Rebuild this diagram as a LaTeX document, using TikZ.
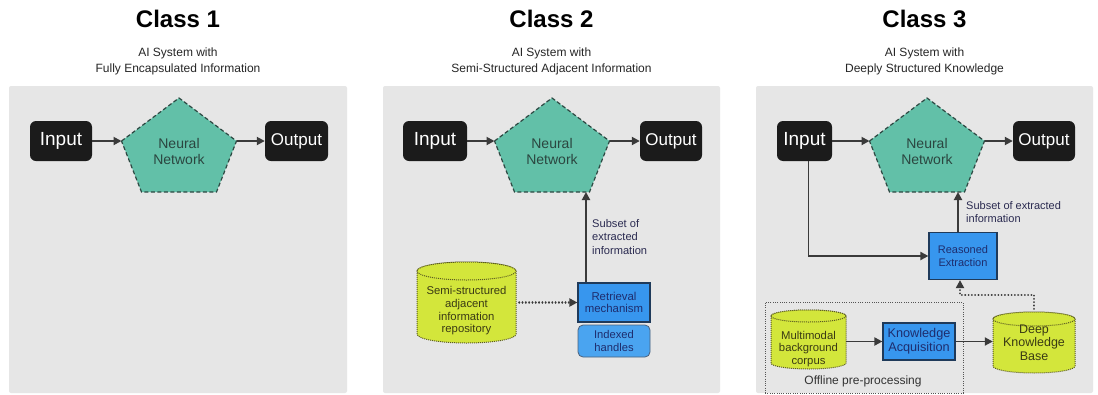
\documentclass[tikz,border=0pt]{standalone}
\usepackage{fontspec}
\setmainfont{Liberation Sans}
\usetikzlibrary{arrows.meta,calc}
\definecolor{panelc}{HTML}{E6E6E6}
\definecolor{blkc}{HTML}{1B1B1B}
\definecolor{nnfill}{HTML}{62C0A8}
\definecolor{pentc}{HTML}{2D4842}
\definecolor{nntextc}{HTML}{2B4640}
\definecolor{arrc}{HTML}{3A3A3A}
\definecolor{bluec}{HTML}{3796EE}
\definecolor{blued}{HTML}{1F3A5A}
\definecolor{navyc}{HTML}{1E2D6E}
\definecolor{blue2c}{HTML}{4AA4F0}
\definecolor{limec}{HTML}{D3E63B}
\definecolor{cyldc}{HTML}{5A5A22}
\definecolor{cyltextc}{HTML}{3A3A14}
\definecolor{lblc}{HTML}{2A2A50}
\definecolor{offc}{HTML}{555555}
\newcommand\fs[2]{\fontsize{#1}{#2}\selectfont}
\tikzset{
  panelbox/.style={fill=panelc, rounded corners=2pt},
  titletext/.style={inner sep=0pt, text=black, font=\bfseries\fs{24}{28}},
  subtext/.style={inner sep=0pt, text=black!85, align=center, font=\fs{12}{16}},
  blk/.style={fill=blkc, rounded corners=6pt, text=white, minimum height=40pt, inner sep=0pt},
  arr/.style={draw=arrc, line width=1.9pt, -{Triangle[length=8pt,width=8pt]}},
  dotarr/.style={draw=arrc, line width=2.1pt, line cap=round, dash pattern=on 0.01pt off 3.3pt, -{Triangle[length=8pt,width=8pt]}},
  pent/.style={fill=nnfill, draw=pentc, line width=1.2pt, dash pattern=on 4pt off 2.5pt},
  nntext/.style={inner sep=0pt, align=center, text=nntextc, font=\fs{14}{16.8}},
  bluebox/.style={fill=bluec, draw=blued, line width=1.2pt, text=navyc, inner sep=0pt, align=center},
  idxbox/.style={fill=blue2c, draw=blued!80, line width=0.8pt, rounded corners=5pt, text=navyc, inner sep=0pt, align=center},
  lbl/.style={text=lblc, align=left, inner sep=0pt, anchor=west},
  cyl/.style={fill=limec, draw=cyldc, line width=1pt, dash pattern=on 1pt off 1pt},
  cylnode/.style={inner sep=0pt, draw=none},
  cyltext/.style={inner sep=0pt, align=center, text=cyltextc},
  offbox/.style={draw=offc, line width=0.9pt, dash pattern=on 1pt off 1.3pt, inner sep=0pt},
}
% pentagon: name, cx
\newcommand\penta[2]{%
  \draw[pent] ({#2-57.5},141) coordinate (#1-l) -- (#2,98) -- ({#2+57.5},141) coordinate (#1-r)
     -- ({#2+37.5},192) -- ({#2-37.5},192) -- cycle;
  \node[nntext] (#1) at (#2,151.5) {Neural\\Network};
}
% cylinder: name, cx, cy, rx, hh, ry, text offset, text, font
\newcommand\cyl[9]{%
  \filldraw[cyl] ({#2-#4},{#3-#5+#6}) -- ({#2-#4},{#3+#5-#6})
     arc[start angle=180,end angle=360,x radius=#4pt,y radius=#6pt]
     -- ({#2+#4},{#3-#5+#6})
     arc[start angle=0,end angle=180,x radius=#4pt,y radius=#6pt] -- cycle;
  \draw[cyl] (#2,{#3-#5+#6}) ellipse[x radius=#4pt, y radius=#6pt];
  \node[cylnode, minimum width={2*#4}, minimum height={2*#5}] (#1) at (#2,#3) {};
  \node[cyltext, font=#9] (#1-t) at (#2,{#3+#7}) {#8};
}
\begin{document}
\begin{tikzpicture}[x=1pt,y=-1pt]
\useasboundingbox (0,0) rectangle (1098,394);
\fill[white] (0,0) rectangle (1098,394);
% panels
\fill[panelbox] (9,86) rectangle (347,393);
\fill[panelbox] (383,86) rectangle (720,393);
\fill[panelbox] (756,86) rectangle (1093,393);
% titles
\node[titletext] (t1) at (178,18.5) {Class 1};
\node[titletext] (t2) at (551.5,18.5) {Class 2};
\node[titletext] (t3) at (924.5,18.5) {Class 3};
\node[subtext] (s1) at (178,61) {AI System with\\Fully Encapsulated Information};
\node[subtext] (s2) at (551.5,61) {AI System with\\Semi-Structured Adjacent Information};
\node[subtext] (s3) at (924.5,61) {AI System with\\Deeply Structured Knowledge};

% ---------- Class 1 ----------
\node[blk, minimum width=62pt, font=\fs{19}{22}] (in1) at (61,141) {Input};
\penta{nn1}{179}
\node[blk, minimum width=63pt, font=\fs{17}{20}] (out1) at (296.5,141) {Output};
\draw[arr] (in1) -- (nn1-l);
\draw[arr] (nn1-r) -- (out1);

% ---------- Class 2 ----------
\node[blk, minimum width=64pt, font=\fs{19}{22}] (in2) at (435,141) {Input};
\penta{nn2}{552}
\node[blk, minimum width=62pt, font=\fs{17}{20}] (out2) at (671,141) {Output};
\draw[arr] (in2) -- (nn2-l);
\draw[arr] (nn2-r) -- (out2);
\coordinate (nn2-b) at (586,192);
\node[bluebox, minimum width=72pt, minimum height=39pt, font=\fs{11.4}{12.4}] (ret) at (614,302.5) {Retrieval\\mechanism};
\node[idxbox, minimum width=72pt, minimum height=32pt, font=\fs{11.2}{12.4}] (idx) at (614,341) {Indexed\\handles};
\draw[arr] (ret.north -| nn2-b) -- (nn2-b);
\node[lbl, font=\fs{11.1}{13.3}] (sub2) at (592,237) {Subset of\\extracted\\information};
\cyl{rep}{466.5}{302.5}{49.5}{40.5}{9}{8.5}{Semi-structured\\adjacent\\information\\repository}{\fs{11.3}{12.7}}
\draw[dotarr] ([xshift=3pt]rep.east |- ret.west) -- (ret.west);

% ---------- Class 3 ----------
\node[blk, minimum width=55pt, font=\fs{19}{22}] (in3) at (804.5,141) {Input};
\penta{nn3}{927}
\node[blk, minimum width=62pt, font=\fs{17}{20}] (out3) at (1044,141) {Output};
\draw[arr] (in3) -- (nn3-l);
\draw[arr] (nn3-r) -- (out3);
\coordinate (nn3-b) at (958,192);
\node[bluebox, minimum width=68pt, minimum height=47pt, font=\fs{11}{12.4}] (re) at (963,256) {Reasoned\\Extraction};
\draw[arr] ([xshift=4pt]in3.south) |- (re.west);
\draw[arr] (re.north -| nn3-b) -- (nn3-b);
\node[lbl, font=\fs{11}{12.2}] (sub3) at (966,212) {Subset of extracted\\information};
\node[offbox, minimum width=198pt, minimum height=91pt] (off) at (864,347.5) {};
\node[inner sep=0pt, text=black!80, font=\fs{12}{14}] (offl) at (863,381) {Offline pre-processing};
\cyl{mm}{808.5}{339.5}{37.5}{29.5}{6}{9.5}{Multimodal\\background\\corpus}{\fs{11.3}{12.2}}
\node[bluebox, minimum width=72pt, minimum height=37pt, font=\fs{12.7}{13.8}] (ka) at (919,341.5) {Knowledge\\Acquisition};
\cyl{dkb}{1034}{342.5}{41}{30.5}{7}{0}{Deep\\Knowledge\\Base}{\fs{12.5}{13.6}}
\draw[arr] (mm.east |- ka.west) -- (ka.west);
\draw[arr] (ka.east) -- (ka.east -| dkb.west);
\draw[dotarr] ([yshift=3pt]dkb.north) -- ++(0,-14) -| ([xshift=-3pt]re.south);
\end{tikzpicture}
\end{document}
